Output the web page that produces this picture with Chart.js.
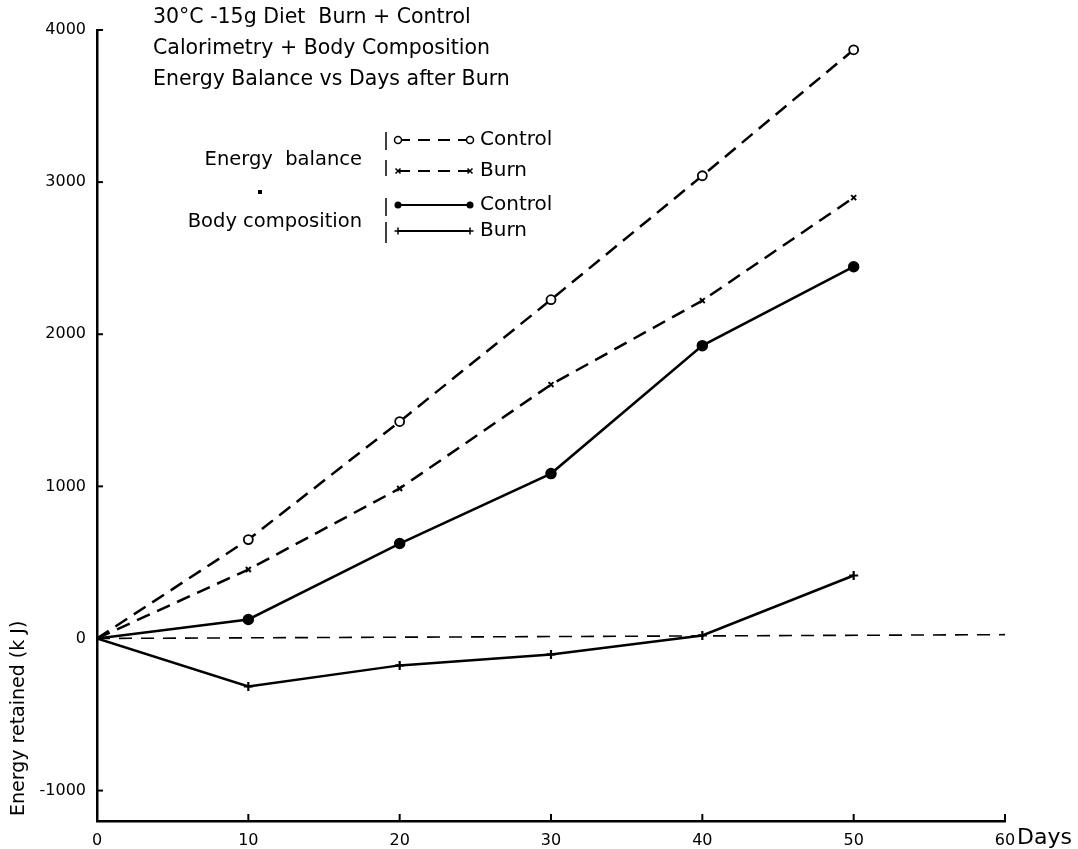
<!DOCTYPE html>
<html>
<head>
<meta charset="utf-8">
<script src="https://cdn.jsdelivr.net/npm/chart.js@4.4.1/dist/chart.umd.min.js"></script>
<style>
  html, body { margin: 0; padding: 0; background: #fff; }
  #wrap { width: 1078px; height: 849px; }
</style>
</head>
<body>
<div id="wrap"><canvas id="chart" width="1078" height="849"></canvas></div>
<script>
const days = [0, 10, 20, 30, 40, 50];
const energyControl = [0, 650, 1426, 2227, 3042, 3870];
const energyBurn = [0, 453, 986, 1669, 2221, 2898];
const bodyControl = [0, 125, 624, 1084, 1925, 2444];
const bodyBurn = [0, -315, -177, -105, 20, 414];
const zeroLine = [{ x: 0, y: 0 }, { x: 60, y: 25 }];
const yTicks = [-1000, 0, 1000, 2000, 3000, 4000];
const xTicks = [0, 10, 20, 30, 40, 50, 60];
const titleLines = ['30\u00B0C -15g Diet  Burn + Control', 'Calorimetry + Body Composition', 'Energy Balance vs Days after Burn'];

const FONT = '"DejaVu Sans", Verdana, sans-serif';
const toXY = arr => arr.map((v, i) => ({ x: days[i], y: v }));
const hideFirst = size => ctx => (ctx.dataIndex === 0 ? 0 : size);

// legend, titles, inward ticks and the odd text bits
const extras = {
  id: 'extras',
  afterDraw(chart) {
    const c = chart.ctx;
    const xs = chart.scales.x, ys = chart.scales.y;
    c.save();
    c.strokeStyle = '#000';
    c.fillStyle = '#000';
    c.lineWidth = 2;
    // inward ticks
    xTicks.forEach(v => {
      const px = xs.getPixelForValue(v);
      c.beginPath(); c.moveTo(px, ys.bottom); c.lineTo(px, ys.bottom - 7); c.stroke();
    });
    yTicks.forEach(v => {
      const py = ys.getPixelForValue(v);
      c.beginPath(); c.moveTo(xs.left, py); c.lineTo(xs.left + 6, py); c.stroke();
    });

    c.font = '20.5px ' + FONT;
    c.textBaseline = 'middle';
    c.textAlign = 'left';
    titleLines.forEach((t, i) => c.fillText(t, 153, 18 + i * 31));

    c.font = '22px ' + FONT;
    c.fillText('Days', 1017, 838);

    // y axis label, placed low like the original
    c.save();
    c.translate(19, 816);
    c.rotate(-Math.PI / 2);
    c.font = '19px ' + FONT;
    c.fillText('Energy retained (k J)', 0, 0);
    c.restore();

    // legend
    c.font = '19.5px ' + FONT;
    c.textAlign = 'right';
    c.fillText('Energy  balance', 362, 160);
    c.fillText('Body composition', 362, 222);
    c.fillRect(258, 190, 4, 4);
    c.textAlign = 'left';
    c.lineWidth = 1.5;
    [[132, 150], [160, 176], [198, 216], [222, 243]].forEach(([a, b]) => {
      c.beginPath(); c.moveTo(386, a); c.lineTo(386, b); c.stroke();
    });
    const rows = [
      { y: 140, dash: [12, 8], label: 'Control', mark: 'open' },
      { y: 171, dash: [12, 8], label: 'Burn', mark: 'x' },
      { y: 205, dash: [], label: 'Control', mark: 'dot' },
      { y: 231, dash: [], label: 'Burn', mark: 'plus' }
    ];
    c.font = '20px ' + FONT;
    rows.forEach(r => {
      c.lineWidth = 2.2;
      c.setLineDash(r.dash);
      c.beginPath(); c.moveTo(398, r.y); c.lineTo(470, r.y); c.stroke();
      c.setLineDash([]);
      [398, 470].forEach(px => {
        c.beginPath();
        if (r.mark === 'open') {
          c.arc(px, r.y, 3.5, 0, Math.PI * 2); c.fillStyle = '#fff'; c.fill();
          c.lineWidth = 1.5; c.stroke(); c.fillStyle = '#000';
        } else if (r.mark === 'dot') {
          c.arc(px, r.y, 3.5, 0, Math.PI * 2); c.fill();
        } else if (r.mark === 'x') {
          c.lineWidth = 1.5;
          c.moveTo(px - 2.5, r.y - 2.5); c.lineTo(px + 2.5, r.y + 2.5);
          c.moveTo(px + 2.5, r.y - 2.5); c.lineTo(px - 2.5, r.y + 2.5); c.stroke();
        } else {
          c.lineWidth = 1.5;
          c.moveTo(px - 3.5, r.y); c.lineTo(px + 3.5, r.y);
          c.moveTo(px, r.y - 3.5); c.lineTo(px, r.y + 3.5); c.stroke();
        }
      });
      c.fillText(r.label, 480, r.y);
    });
    c.restore();
  }
};

new Chart(document.getElementById('chart'), {
  type: 'scatter',
  data: {
    datasets: [
      {
        label: 'Energy balance Control',
        data: toXY(energyControl),
        showLine: true,
        borderColor: '#000',
        borderWidth: 2.5,
        borderDash: [14, 8],
        pointStyle: 'circle',
        pointRadius: hideFirst(4.5),
        pointBackgroundColor: '#fff',
        pointBorderColor: '#000',
        pointBorderWidth: 1.8
      },
      {
        label: 'Energy balance Burn',
        data: toXY(energyBurn),
        showLine: true,
        borderColor: '#000',
        borderWidth: 2.5,
        borderDash: [14, 8],
        pointStyle: 'crossRot',
        pointRadius: hideFirst(3.5),
        pointBorderColor: '#000',
        pointBorderWidth: 2
      },
      {
        label: 'Body composition Control',
        data: toXY(bodyControl),
        showLine: true,
        borderColor: '#000',
        borderWidth: 2.5,
        pointStyle: 'circle',
        pointRadius: hideFirst(4.5),
        pointBackgroundColor: '#000',
        pointBorderColor: '#000'
      },
      {
        label: 'Body composition Burn',
        data: toXY(bodyBurn),
        showLine: true,
        borderColor: '#000',
        borderWidth: 2.5,
        pointStyle: 'cross',
        pointRadius: hideFirst(4.5),
        pointBorderColor: '#000',
        pointBorderWidth: 2.2
      },
      {
        label: 'zero',
        data: zeroLine,
        showLine: true,
        borderColor: '#000',
        borderWidth: 1.6,
        borderDash: [13, 9],
        pointRadius: 0
      }
    ]
  },
  options: {
    responsive: false,
    animation: false,
    layout: { padding: { top: 30, right: 73, left: 0, bottom: 0 } },
    plugins: { legend: { display: false }, tooltip: { enabled: false } },
    scales: {
      x: {
        type: 'linear',
        min: 0,
        max: 60,
        afterBuildTicks: s => { s.ticks = xTicks.map(v => ({ value: v })); },
        afterFit: s => { s.height = 28; },
        grid: { display: false },
        border: { display: true, color: '#000', width: 2.5 },
        ticks: { color: '#000', padding: 2, maxRotation: 0, autoSkip: false, font: { family: FONT, size: 16 } }
      },
      y: {
        min: -1200,
        max: 4000,
        afterBuildTicks: s => { s.ticks = yTicks.map(v => ({ value: v })); },
        afterFit: s => { s.width = 97; },
        grid: { display: false },
        border: { display: true, color: '#000', width: 2.5 },
        ticks: { color: '#000', padding: 3, autoSkip: false, font: { family: FONT, size: 16 }, callback: v => String(v) }
      }
    }
  },
  plugins: [extras]
});
</script>
</body>
</html>
